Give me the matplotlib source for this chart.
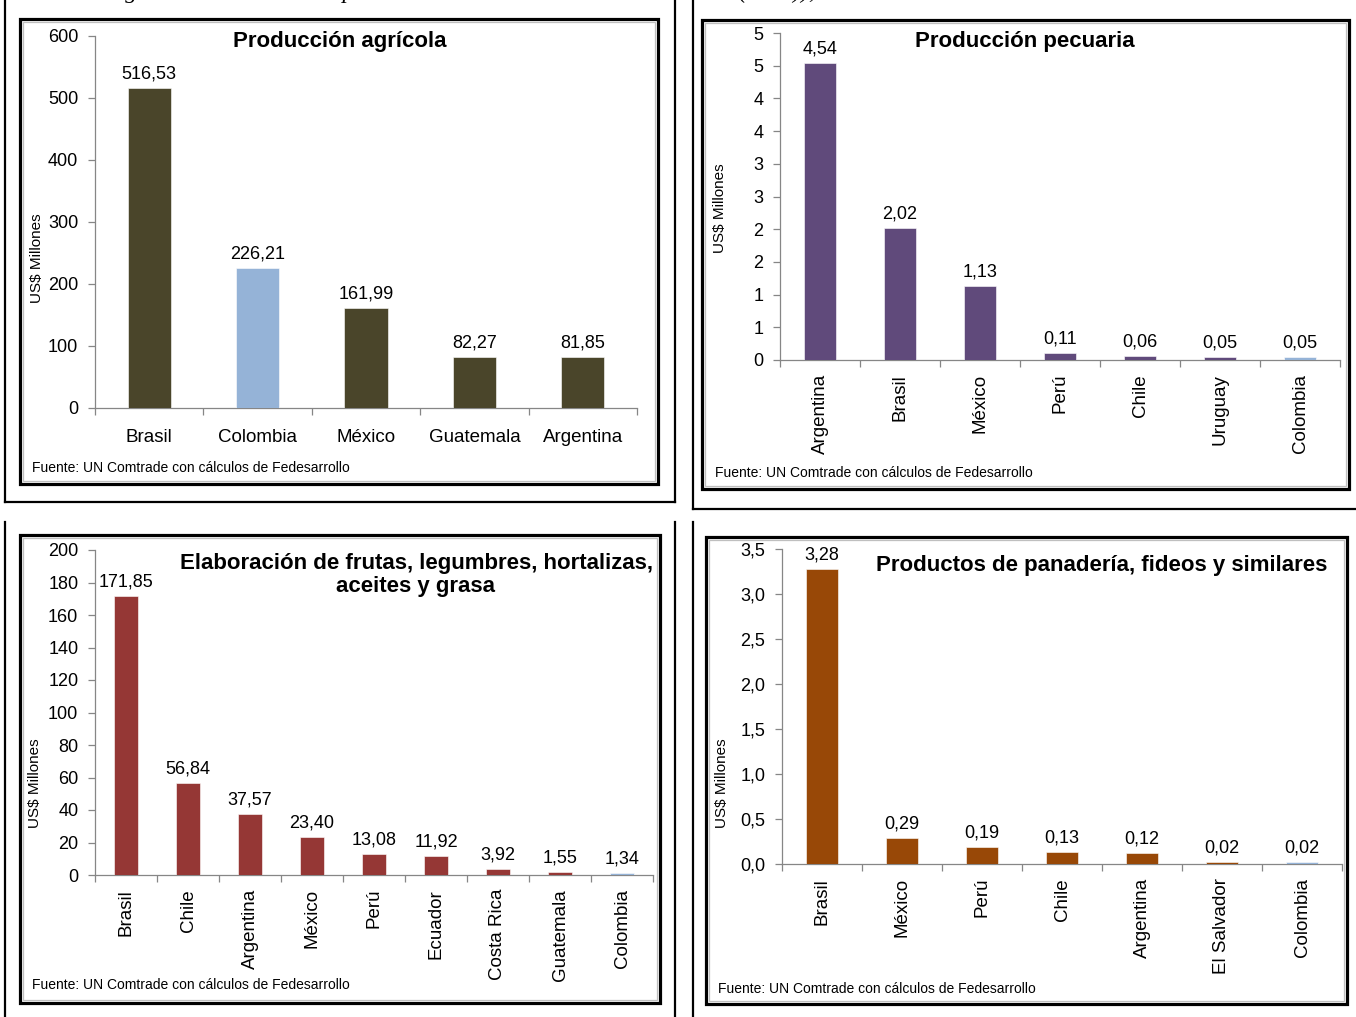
import matplotlib
matplotlib.use("Agg")
import matplotlib.pyplot as plt
from matplotlib.patches import Rectangle
from matplotlib.lines import Line2D

plt.rcParams['font.family'] = ['Liberation Sans', 'DejaVu Sans']

W, H = 1356, 1017

# data
agri_countries = ['Brasil', 'Colombia', 'México', 'Guatemala', 'Argentina']
agri_values = [516.53, 226.21, 161.99, 82.27, 81.85]

pec_countries = ['Argentina', 'Brasil', 'México', 'Perú', 'Chile', 'Uruguay', 'Colombia']
pec_values = [4.54, 2.02, 1.13, 0.11, 0.06, 0.05, 0.05]
pec_ticks = [0, 0.5, 1, 1.5, 2, 2.5, 3, 3.5, 4, 4.5, 5]
pec_ticklabels = ['0', '1', '1', '2', '2', '3', '3', '4', '4', '5', '5']

fru_countries = ['Brasil', 'Chile', 'Argentina', 'México', 'Perú', 'Ecuador', 'Costa Rica',
                 'Guatemala', 'Colombia']
fru_values = [171.85, 56.84, 37.57, 23.40, 13.08, 11.92, 3.92, 1.55, 1.34]

pan_countries = ['Brasil', 'México', 'Perú', 'Chile', 'Argentina', 'El Salvador', 'Colombia']
pan_values = [3.28, 0.29, 0.19, 0.13, 0.12, 0.02, 0.02]

FUENTE = 'Fuente: UN Comtrade con cálculos de Fedesarrollo'
YLABEL = 'US$ Millones'
COLOMBIA_COLOR = '#95B3D7'
AXIS_GRAY = '#868686'


def rect(x0, y0, x1, y1):
    return [x0 / W, 1 - y1 / H, (x1 - x0) / W, (y1 - y0) / H]


def fx(x):
    return x / W


def fy(y):
    return 1 - y / H


def chart_frame(fig, x0, y0, x1, y1):
    fig.patches.append(Rectangle((fx(x0), fy(y1)), fx(x1) - fx(x0), fy(y0) - fy(y1),
                                 transform=fig.transFigure, fill=False, ec='black', lw=2.3, zorder=5))
    fig.patches.append(Rectangle((fx(x0 + 3), fy(y1 - 3)), fx(x1 - 3) - fx(x0 + 3), fy(y0 + 3) - fy(y1 - 3),
                                 transform=fig.transFigure, fill=False, ec='#bfbfbf', lw=0.9, zorder=5))


def vline(fig, x, y0, y1):
    fig.lines.append(Line2D([fx(x), fx(x)], [fy(y0), fy(y1)], transform=fig.transFigure,
                            color='black', lw=1.6))


def hline(fig, x0, x1, y):
    fig.lines.append(Line2D([fx(x0), fx(x1)], [fy(y), fy(y)], transform=fig.transFigure,
                            color='black', lw=1.6))


def bar_panel(fig, box, countries, values, color, ymax, yticks, yticklabels, fmt, rotate):
    ax = fig.add_axes(rect(*box))
    n = len(countries)
    x = list(range(n))
    colors = [COLOMBIA_COLOR if c == 'Colombia' else color for c in countries]
    ax.bar(x, values, width=0.4, color=colors, edgecolor='white', linewidth=0.4, zorder=3)
    ax.set_xlim(-0.5, n - 0.5)
    ax.set_ylim(0, ymax)
    for i in range(n):
        ax.annotate(fmt(values[i]), (x[i], values[i]), xytext=(0, 4), textcoords='offset points',
                    ha='center', va='bottom', fontsize=13)
    ax.set_yticks(yticks)
    ax.set_yticklabels(yticklabels, fontsize=13)
    ax.set_xticks(x)
    if rotate:
        ax.set_xticklabels(countries, rotation=90, fontsize=13.5, va='top', ha='center')
        ax.tick_params(axis='x', which='major', length=0, pad=10)
    else:
        ax.set_xticklabels(countries, fontsize=13.5)
        ax.tick_params(axis='x', which='major', length=0, pad=15)
    ax.set_xticks([i + 0.5 for i in range(-1, n)], minor=True)
    ax.tick_params(axis='x', which='minor', length=5, color=AXIS_GRAY, width=0.9)
    ax.tick_params(axis='y', length=5, color=AXIS_GRAY, width=0.9, pad=7)
    for s in ['top', 'right']:
        ax.spines[s].set_visible(False)
    for s in ['left', 'bottom']:
        ax.spines[s].set_color(AXIS_GRAY)
        ax.spines[s].set_linewidth(0.9)
    ax.patch.set_alpha(0)
    return ax


def comma(d):
    return lambda v: f'{v:.{d}f}'.replace('.', ',')


fig = plt.figure(figsize=(W / 100, H / 100), dpi=100)

# table cell borders around the charts
vline(fig, 5, -5, 502)
vline(fig, 675, -5, 502)
hline(fig, 5, 675, 502)
vline(fig, 693, -5, 509)
hline(fig, 693, 1360, 509)
vline(fig, 5, 522, 1022)
vline(fig, 675, 522, 1022)
vline(fig, 693, 522, 1022)

# caption of the page, cut off at the top edge as in the source
fig.text(fx(104), fy(-2), 'Figura 8. Valor de las exportaciones hacia Venezuela en millones (2011)),',
         fontsize=17.3, family='Liberation Serif', style='italic', ha='left', va='baseline')

TITLE_SIZE = 16

# Producción agrícola
chart_frame(fig, 20, 19, 658, 484)
bar_panel(fig, (95, 36, 637, 408), agri_countries, agri_values, '#4A452A', 600,
          [0, 100, 200, 300, 400, 500, 600], ['0', '100', '200', '300', '400', '500', '600'],
          comma(2), False)
fig.text(fx(340), fy(42), 'Producción agrícola', fontsize=TITLE_SIZE, weight='bold', ha='center', va='center')
fig.text(fx(32), fy(468), FUENTE, fontsize=10, ha='left', va='center')
fig.text(fx(37), fy(258), YLABEL, fontsize=11, rotation=90, ha='center', va='center')

# Producción pecuaria
chart_frame(fig, 702, 20, 1349, 489)
bar_panel(fig, (780, 33, 1340, 360), pec_countries, pec_values, '#604A7B', 5,
          pec_ticks, pec_ticklabels, comma(2), True)
fig.text(fx(1025), fy(42), 'Producción pecuaria', fontsize=TITLE_SIZE, weight='bold', ha='center', va='center')
fig.text(fx(715), fy(473), FUENTE, fontsize=10, ha='left', va='center')
fig.text(fx(720), fy(208), YLABEL, fontsize=11, rotation=90, ha='center', va='center')

# Elaboración de frutas, legumbres, hortalizas, aceites y grasa
chart_frame(fig, 20, 535, 660, 1003)
bar_panel(fig, (95, 550, 653, 875), fru_countries, fru_values, '#953735', 200,
          list(range(0, 201, 20)), [str(v) for v in range(0, 201, 20)], comma(2), True)
fig.text(fx(416), fy(575), 'Elaboración de frutas, legumbres, hortalizas,\naceites y grasa', fontsize=TITLE_SIZE,
         weight='bold', ha='center', va='center', linespacing=1.1)
fig.text(fx(32), fy(985), FUENTE, fontsize=10, ha='left', va='center')
fig.text(fx(35), fy(783), YLABEL, fontsize=11, rotation=90, ha='center', va='center')

# Productos de panadería, fideos y similares
chart_frame(fig, 706, 537, 1347, 1004)
bar_panel(fig, (782, 549, 1342, 864), pan_countries, pan_values, '#984807', 3.5,
          [0, 0.5, 1, 1.5, 2, 2.5, 3, 3.5], ['0,0', '0,5', '1,0', '1,5', '2,0', '2,5', '3,0', '3,5'],
          comma(2), True)
fig.text(fx(1102), fy(566), 'Productos de panadería, fideos y similares', fontsize=TITLE_SIZE, weight='bold',
         ha='center', va='center')
fig.text(fx(718), fy(989), FUENTE, fontsize=10, ha='left', va='center')
fig.text(fx(722), fy(783), YLABEL, fontsize=11, rotation=90, ha='center', va='center')

fig.savefig('out.png', dpi=100, facecolor='white')
